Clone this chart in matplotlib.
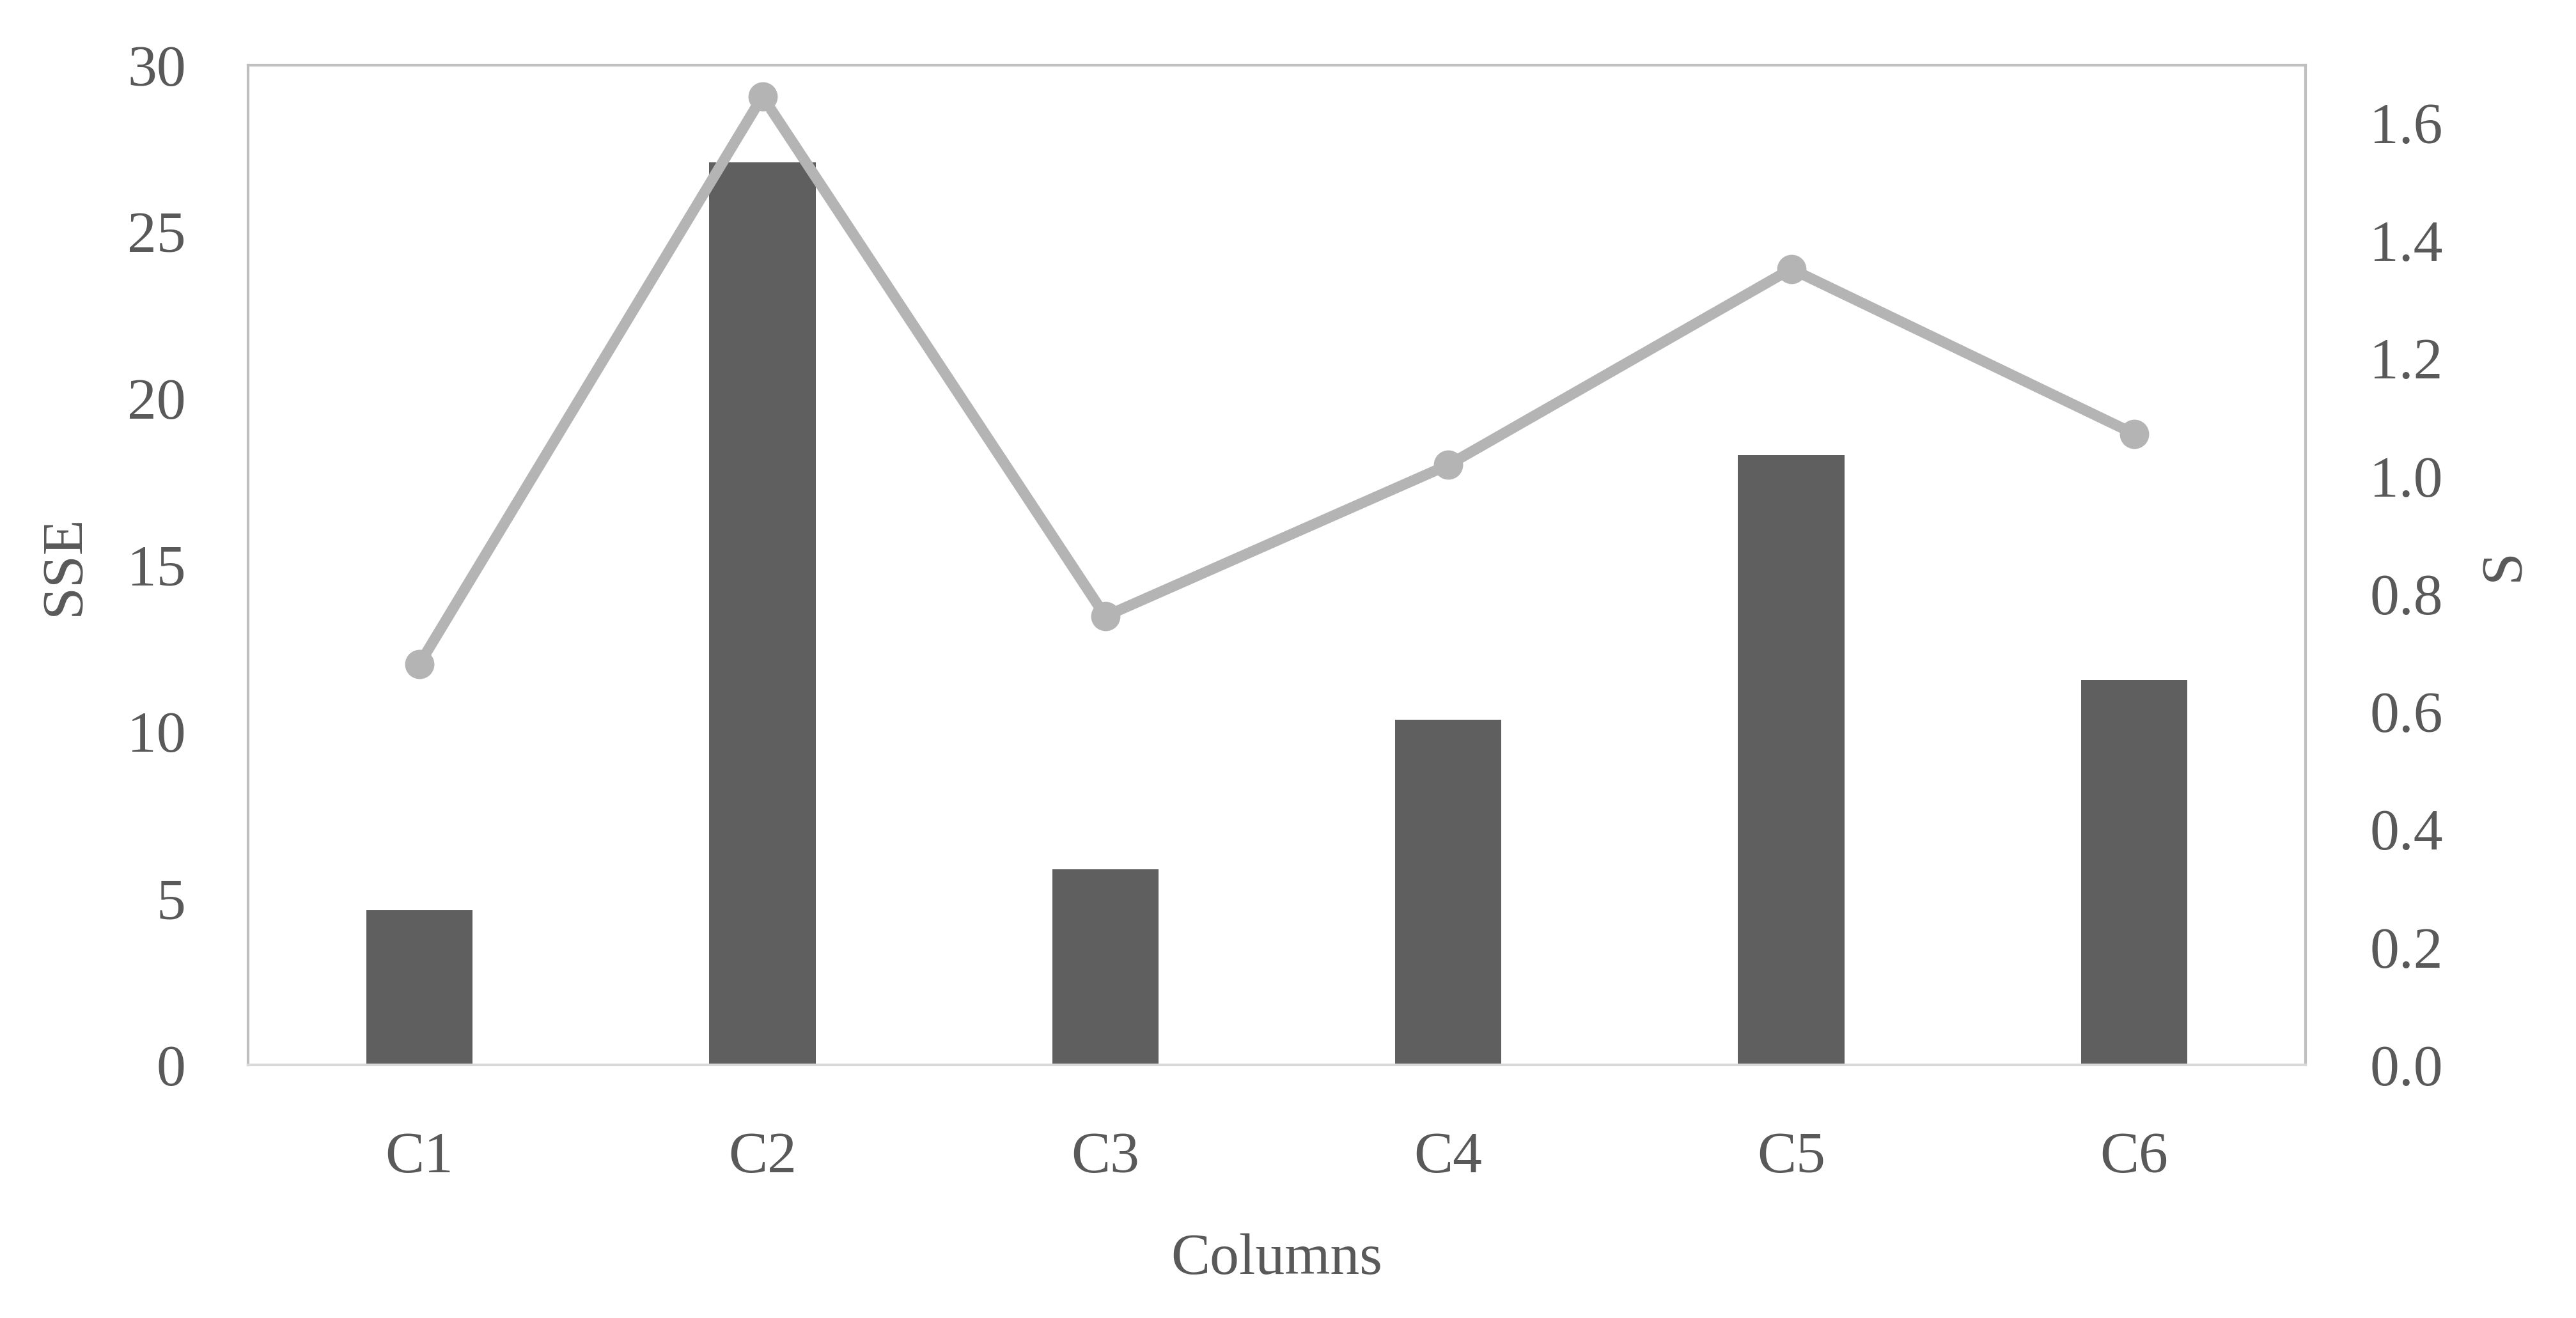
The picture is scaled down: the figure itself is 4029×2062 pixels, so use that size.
import numpy as np
import matplotlib.pyplot as plt

columns = ["C1", "C2", "C3", "C4", "C5", "C6"]
sse = [4.64, 27.08, 5.87, 10.36, 18.3, 11.54]
s_vals = [0.681, 1.645, 0.762, 1.019, 1.352, 1.072]

text_col = "#595959"
plt.rcParams["font.family"] = ["Liberation Serif", "DejaVu Serif"]
plt.rcParams["font.size"] = 66

fig = plt.figure(figsize=(40.3, 20.62), dpi=100)
ax = fig.add_axes([388 / 4030, 1 - 1666 / 2062, (3606 - 388) / 4030, (1666 - 102) / 2062])
x = np.arange(len(columns))

# bars on the left axis
ax.bar(x, sse, width=0.31, color="#5f5f5f", zorder=2)
ax.set_xlim(-0.5, len(columns) - 0.5)
ax.set_ylim(0, 30)
ax.set_yticks(range(0, 31, 5))
ax.set_xticks(x)
ax.set_xticklabels(columns)
ax.set_ylabel("SSE", color=text_col, labelpad=40)
ax.set_xlabel("Columns", color=text_col, labelpad=55)
ax.tick_params(axis="y", length=0, pad=70, colors=text_col)
ax.tick_params(axis="x", length=0, pad=75, colors=text_col)
for sp in ax.spines.values():
    sp.set_color("#bfbfbf")
    sp.set_linewidth(3)
ax.spines["bottom"].set_color("#d9d9d9")

# line on the right axis
ax2 = ax.twinx()
ax2.plot(x, s_vals, color="#b4b4b4", linewidth=12, marker="o", markersize=32, zorder=3)
ax2.set_ylim(0, 1.698)
ax2.set_yticks(np.arange(0, 1.61, 0.2))
ax2.set_yticklabels([f"{v:.1f}" for v in np.arange(0, 1.61, 0.2)])
ax2.set_ylabel("S", color=text_col, labelpad=40)
ax2.tick_params(axis="y", length=0, pad=72, colors=text_col)
for sp in ax2.spines.values():
    sp.set_visible(False)

fig.savefig("out.png", dpi=100, facecolor="white")
